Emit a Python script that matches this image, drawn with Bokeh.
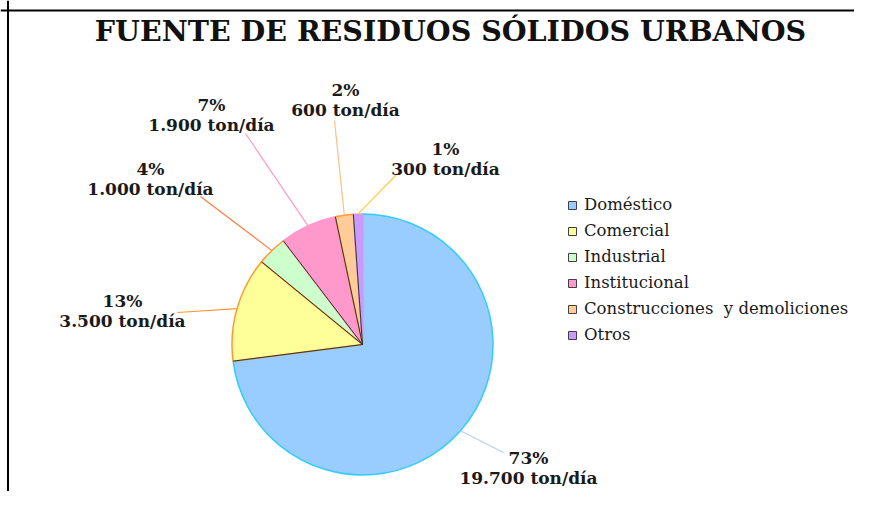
import numpy as np
from bokeh.plotting import figure
from bokeh.models import ColumnDataSource, Range1d, Legend, LegendItem, Span
from bokeh.core.properties import value
from bokeh.embed import file_html
from bokeh.resources import INLINE

# ---------------- data ----------------
title_text = "FUENTE DE RESIDUOS SÓLIDOS URBANOS"
categories = ["Doméstico", "Comercial", "Industrial", "Institucional",
              "Construcciones  y demoliciones", "Otros"]
tons_per_day = [19700, 3500, 1000, 1900, 600, 300]

# ---------------- styles ----------------
fill_colors = ["#99CCFF", "#FFFF99", "#CCFFCC", "#FF99CC", "#FFCC99", "#CC99FF"]
edge_colors = ["#33CCFF", "#FF9933", "#FF9933", "#FF99CC", "#FF9933", "#CC99FF"]
leader_colors = ["#B4D2F5", "#FF9933", "#FF7A3D", "#FF99CC", "#FFBF80", "#FFCC44"]

W, H = 854, 491
def px(x):  # picture x -> data x
    return x
def py(y):  # picture y -> data y
    return H - y

CX, CY, R = px(362), py(344), 130.5
# label block centres and leader end points (picture pixels), layout only
label_pos = [(528, 467), (122, 310), (150, 178), (211, 114), (345, 99), (445, 158)]
leader_end = [(503, 452), (177, 312), (200, 196), (245, 133), (334, 120), (397, 173)]
GAP = 10

vals = np.array(tons_per_day, dtype=float)
total = vals.sum()
frac = vals / total
cum = np.concatenate([[0.0], np.cumsum(frac)])
start = np.pi / 2 - 2 * np.pi * cum[:-1]
end = np.pi / 2 - 2 * np.pi * cum[1:]
mid = (start + end) / 2

pct_labels = [f"{round(100 * f)}%" for f in frac]
ton_labels = [f"{int(v):,}".replace(",", ".") + " ton/día" for v in tons_per_day]

src = ColumnDataSource(dict(cat=categories, start=start, end=end,
                            fill=fill_colors, edge=edge_colors))

p = figure(width=W, height=H, output_backend="svg", toolbar_location=None,
           x_range=Range1d(0, W), y_range=Range1d(0, H), min_border=0,
           background_fill_color="white", border_fill_color="white")
p.axis.visible = False
p.grid.visible = False
p.outline_line_color = None

# borders (top & left)
p.add_layout(Span(location=py(10), dimension="width", line_color="black", line_width=2))
p.add_layout(Span(location=px(7.5), dimension="height", line_color="black", line_width=2))

# pie
p.wedge(x=CX, y=CY, radius=R, start_angle="start", end_angle="end", direction="clock",
        fill_color="fill", line_color="edge", line_width=1.5, source=src)

# radial separators
b_ang = start[1:]
p.segment(x0=[CX] * len(b_ang), y0=[CY] * len(b_ang),
          x1=list(CX + R * np.cos(b_ang)), y1=list(CY + R * np.sin(b_ang)),
          line_color="#333333", line_width=1)

# leader lines
lx0 = CX + R * np.cos(mid)
ly0 = CY + R * np.sin(mid)
lx1 = [px(a) for a, b in leader_end]
ly1 = [py(b) for a, b in leader_end]
p.segment(x0=list(lx0), y0=list(ly0), x1=lx1, y1=ly1, line_color=leader_colors, line_width=1.2)

# data labels
tx = [px(a) for a, b in label_pos]
p.text(x=tx, y=[py(b - GAP) for a, b in label_pos], text=pct_labels,
       text_font=value("DejaVu Serif"), text_font_style="bold", text_font_size="17px",
       text_align="center", text_baseline="middle", text_color="#1a1a1a")
p.text(x=tx, y=[py(b + GAP) for a, b in label_pos], text=ton_labels,
       text_font=value("DejaVu Serif"), text_font_style="bold", text_font_size="17px",
       text_align="center", text_baseline="middle", text_color="#1a1a1a")

# title
p.text(x=[px(450)], y=[py(30)], text=[title_text],
       text_font=value("DejaVu Serif"), text_font_style="bold", text_font_size="28.5px",
       text_align="center", text_baseline="middle", text_color="#111111")

# legend (swatches with dark outline)
nan = [np.nan] * len(categories)
leg_src = ColumnDataSource(dict(l=nan, r=nan, t=nan, b=nan, fill=fill_colors))
sw = p.quad(left="l", right="r", top="t", bottom="b", fill_color="fill",
            line_color="#404040", line_width=1, source=leg_src)
items = [LegendItem(label=c, renderers=[sw], index=i) for i, c in enumerate(categories)]
legend = Legend(items=items, location=(567, 147), padding=0, margin=0,
                glyph_width=10, glyph_height=10, label_height=10, spacing=7,
                label_standoff=7, label_text_font="DejaVu Serif",
                label_text_font_size="16.5px", label_text_color="#1a1a1a",
                border_line_color=None, background_fill_alpha=0)
p.add_layout(legend)

open("out.html", "w").write(file_html(p, INLINE))
